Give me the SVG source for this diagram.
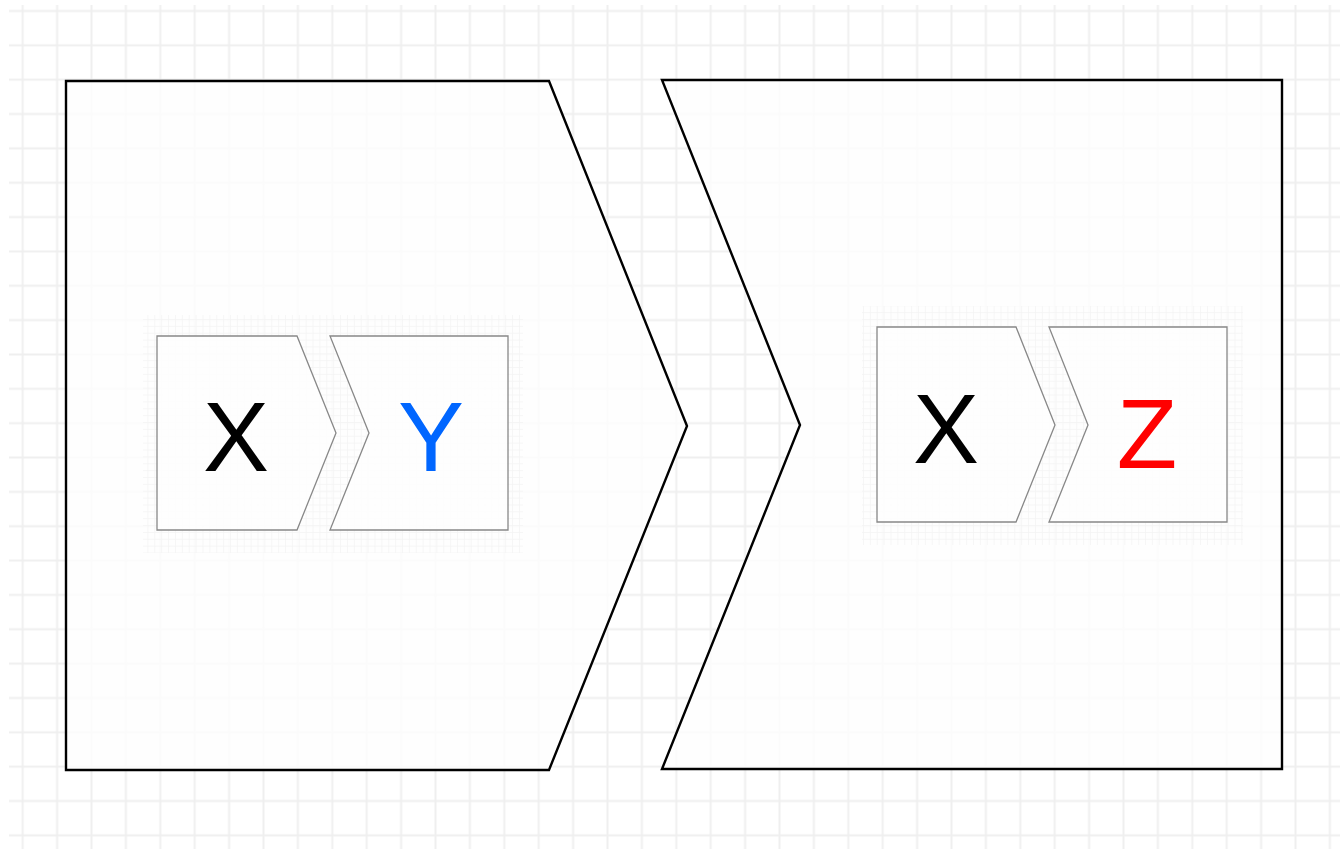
<svg xmlns="http://www.w3.org/2000/svg" width="1340" height="849" viewBox="0 0 1340 849">
<style>
.big{fill:#fefefe;fill-opacity:0.8;stroke:#000;stroke-width:2.4;stroke-linejoin:miter}
.small{fill:#fefefe;fill-opacity:0.85;stroke:#888;stroke-width:1.3}
.lbl{font-family:"Liberation Sans",Arial,sans-serif;font-size:99px;text-anchor:middle}
</style>
<defs>
<pattern id="grid" x="5.5" y="-6.2" width="34.4" height="34.35" patternUnits="userSpaceOnUse">
<path d="M17.2 0V34.35M0 17.2H34.4" stroke="#efefef" stroke-width="2" fill="none"/>
</pattern>
<pattern id="fine" x="0" y="0" width="6.88" height="6.87" patternUnits="userSpaceOnUse">
<path d="M3.44 0V6.87M0 3.44H6.88" stroke="#f4f4f4" stroke-width="0.8" fill="none"/>
</pattern>
</defs>
<rect width="1340" height="849" fill="#fff"/>
<rect x="9" y="5" width="1331" height="844" fill="url(#grid)"/>
<g id="stage1">
<polygon class="big" points="66,81 549,81 687,426 549,770 66,770"/>
</g>
<g id="stage2">
<polygon class="big" points="662,80 1282,80 1282,769 662,769 800,425"/>
</g>
<rect x="143" y="315" width="380" height="238" fill="url(#fine)"/>
<rect x="862" y="306" width="381" height="239" fill="url(#fine)"/>
<g id="x1">
<polygon class="small" points="157,336 297,336 336,433 297,530 157,530"/>
<text class="lbl" x="236" y="471" fill="#000">X</text>
</g>
<g id="y1">
<polygon class="small" points="330,336 508,336 508,530 330,530 369,433"/>
<text class="lbl" x="431" y="471" fill="#0066ff">Y</text>
</g>
<g id="x2">
<polygon class="small" points="877,327 1016,327 1055,425 1016,522 877,522"/>
<text class="lbl" x="946" y="463" fill="#000">X</text>
</g>
<g id="z2">
<polygon class="small" points="1049,327 1227,327 1227,522 1049,522 1088,425"/>
<text class="lbl" x="1147" y="468" fill="#ff0000">Z</text>
</g>
<g id="connectors"></g>
</svg>
